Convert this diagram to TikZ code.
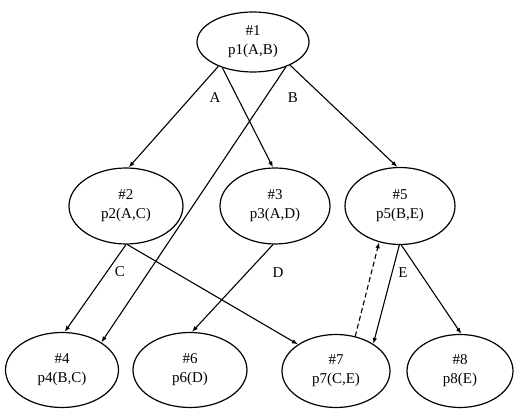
\documentclass[tikz,border=0pt]{standalone}
\usepackage{fontspec}
\setmainfont{Liberation Serif}
\usetikzlibrary{shapes.geometric,arrows.meta}
\begin{document}
\begin{tikzpicture}[x=1pt,y=-1pt,
  st/.style={ellipse,draw,line width=1.2pt,inner sep=0pt,align=center,
    minimum width=112pt,minimum height=75pt,font=\fontsize{15}{19}\selectfont},
  ed/.style={line width=1.1pt,-{Latex[length=6pt,width=4.5pt]}},
  dsh/.style={ed,dash pattern=on 5pt off 3pt},
  lab/.style={font=\fontsize{15}{16}\selectfont,inner sep=0pt}]
\useasboundingbox (0,0) rectangle (515,411);
\node[st,minimum width=112pt,minimum height=60pt] (n1) at (253,42) {\#1\\p1(A,B)};
\node[st,minimum width=114pt,minimum height=76pt] (n2) at (126,206) {\#2\\p2(A,C)};
\node[st,minimum width=110pt,minimum height=76pt] (n3) at (275,206) {\#3\\p3(A,D)};
\node[st,minimum width=110pt,minimum height=77pt] (n5) at (400,206) {\#5\\p5(B,E)};
\node[st,minimum width=113pt,minimum height=75pt] (n4) at (62,370) {\#4\\p4(B,C)};
\node[st,minimum width=114pt,minimum height=75pt] (n6) at (190,370) {\#6\\p6(D)};
\node[st,minimum width=108pt,minimum height=73pt] (n7) at (336,371) {\#7\\p7(C,E)};
\node[st,minimum width=106pt,minimum height=73pt] (n8) at (460,371) {\#8\\p8(E)};
\draw[ed] (n1.-145) -- (n2.86);
\draw[ed] (n1.-140) -- (n3.93);
\draw[ed] (n1.-37) -- (n4.35);
\draw[ed] (n1.-32) -- (n5.94);
\draw[ed] (n2.-90) -- (n4.86);
\draw[ed] (n2.-88) -- (n7.145);
\draw[ed] (n3.-93) -- (n6.87);
\draw[ed] (n5.-91) -- (n7.36);
\draw[dsh] (n7.61) -- (n5.-120);
\draw[ed] (n5.-88) -- (n8.88);
\node[lab] (la) at (215,98) {A};
\node[lab] (lb) at (293,98) {B};
\node[lab] (lc) at (120,272) {C};
\node[lab] (ld) at (278,273) {D};
\node[lab] (le) at (403,273) {E};
\end{tikzpicture}
\end{document}
